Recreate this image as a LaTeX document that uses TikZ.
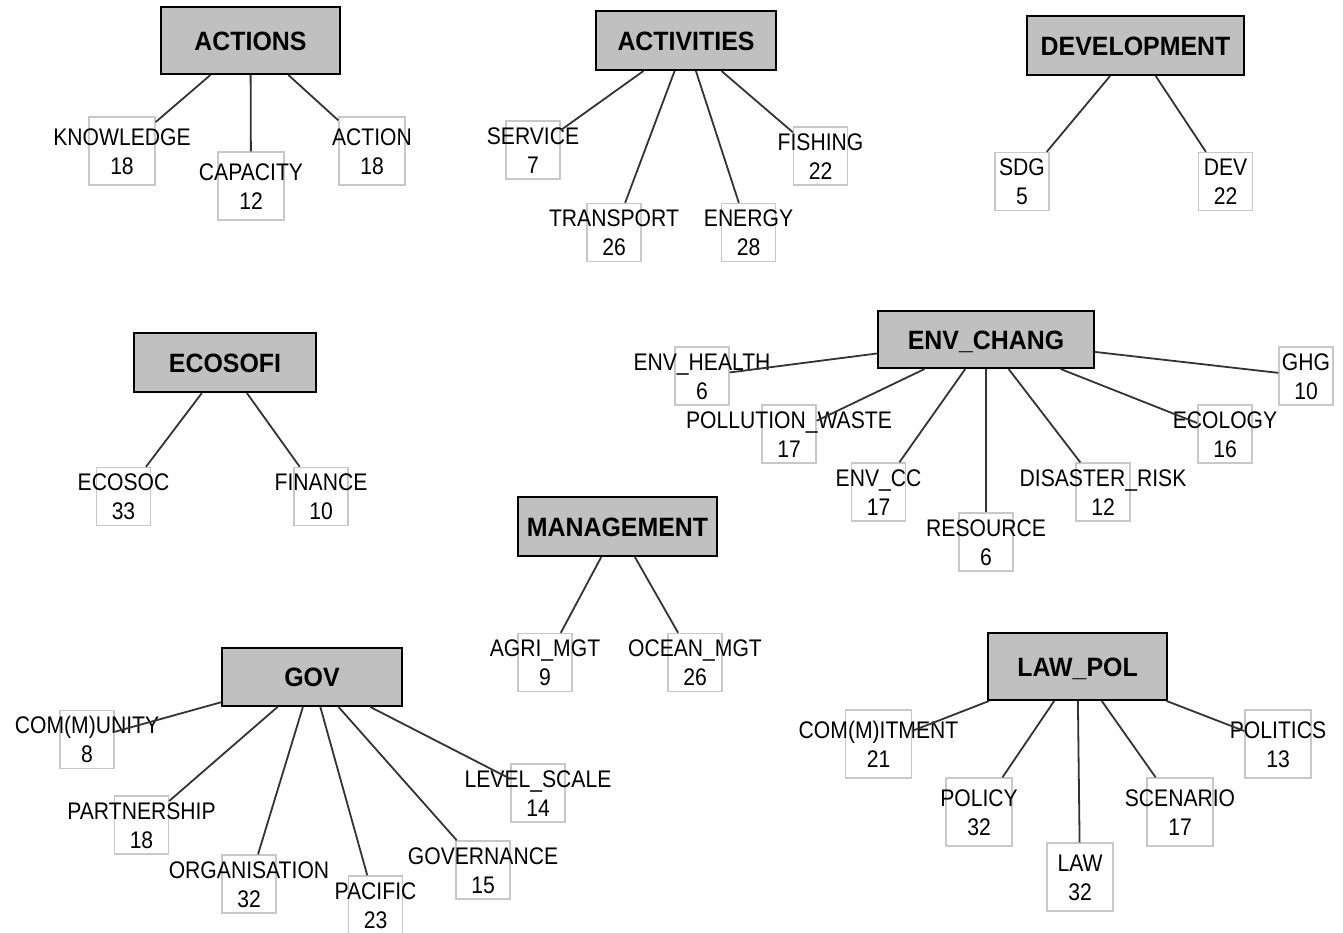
\documentclass[tikz,border=0pt]{standalone}
\usepackage{fontspec}
\setmainfont{Liberation Sans}
\newfontfamily\leaffont{Liberation Sans}[FakeStretch=0.88]
\newfontfamily\catfont{Liberation Sans}[FakeStretch=0.94]
\usetikzlibrary{graphs}

\definecolor{catfill}{HTML}{C0C0C0}
\definecolor{leafline}{HTML}{C8C8C8}
\definecolor{edgeline}{HTML}{333333}

\tikzset{
  cat/.style={rectangle, draw=black, line width=2pt, fill=catfill,
    minimum width=180pt, minimum height=59pt, inner sep=0pt,
    font=\catfont\fontsize{26.5pt}{30pt}\selectfont\bfseries, text height=19pt, text depth=0pt},
  leaf/.style={rectangle, draw=leafline, line width=1.4pt,
    minimum width=54pt, minimum height=58pt, inner sep=0pt},
  big leaf/.style={leaf, minimum width=66pt, minimum height=68pt},
  leaf text/.style={inner sep=0pt, font=\leaffont\fontsize{24pt}{28pt}\selectfont,
    text height=17pt, text depth=0pt},
}

% box, its word above the middle and its count below
\newcommand\leafbox[5][]{%
  \node[leaf,#1] (#2) at (#3) {};
  \node[leaf text] (#2t) at ([yshift=14.5pt]#2.center) {#4};
  \node[leaf text] (#2c) at ([yshift=-14.5pt]#2.center) {#5};
}

\begin{document}
\begin{tikzpicture}[x=1pt, y=-1pt, new set=import nodes]
\useasboundingbox (0,0) rectangle (1343,932);
\begin{scope}[nodes={set=import nodes}] % every node goes into this set
% categories
\node [cat, minimum width=179pt, minimum height=67pt] (act) at (250.5,40.5) {ACTIONS};
\node [cat] (avt) at (686,40.5) {ACTIVITIES};
\node [cat, minimum width=217pt] (dvl) at (1135.5,45.5) {DEVELOPMENT};
\node [cat, minimum width=182pt] (eco) at (225,362.5) {ECOSOFI};
\node [cat, minimum width=216pt, minimum height=57pt] (env) at (986,339.5) {ENV\_CHANG};
\node [cat, minimum width=199pt] (mgt) at (617.5,526.5) {MANAGEMENT};
\node [cat, minimum height=58pt] (gov) at (312,677) {GOV};
\node [cat, minimum width=179pt, minimum height=67pt] (lwp) at (1077.5,666.5) {LAW\_POL};
% codes
\leafbox[big leaf]{knw}{122,151}{KNOWLEDGE}{18}
\leafbox[big leaf]{cap}{251,186}{CAPACITY}{12}
\leafbox[big leaf]{acn}{372,151}{ACTION}{18}
\leafbox{srv}{533,150}{SERVICE}{7}
\leafbox{trn}{614,232.5}{TRANSPORT}{26}
\leafbox{ene}{748.5,232.5}{ENERGY}{28}
\leafbox{fsh}{820.5,156}{FISHING}{22}
\leafbox{sdg}{1022,181.5}{SDG}{5}
\leafbox{dev}{1225.5,181.5}{DEV}{22}
\leafbox{ecs}{123.5,496.5}{ECOSOC}{33}
\leafbox{fin}{321,496.5}{FINANCE}{10}
\leafbox{envh}{702,376}{ENV\_HEALTH}{6}
\leafbox{plw}{789,434}{POLLUTION\_WASTE}{17}
\leafbox{envcc}{878.5,492}{ENV\_CC}{17}
\leafbox{res}{986,542}{RESOURCE}{6}
\leafbox{dis}{1103,492}{DISASTER\_RISK}{12}
\leafbox{ecl}{1225,434}{ECOLOGY}{16}
\leafbox{ghg}{1306,376}{GHG}{10}
\leafbox{agri}{545,662.5}{AGRI\_MGT}{9}
\leafbox{ocn}{695,662.5}{OCEAN\_MGT}{26}
\leafbox{comu}{87,739.5}{COM(M)UNITY}{8}
\leafbox{prt}{141.5,825}{PARTNERSHIP}{18}
\leafbox{org}{249,884}{ORGANISATION}{32}
\leafbox{pac}{375.5,905}{PACIFIC}{23}
\leafbox{gvn}{483,870}{GOVERNANCE}{15}
\leafbox{lvl}{538,793}{LEVEL\_SCALE}{14}
\leafbox[big leaf]{cmt}{878.5,744}{COM(M)ITMENT}{21}
\leafbox[big leaf]{plc}{979,812}{POLICY}{32}
\leafbox[big leaf]{law}{1080,877}{LAW}{32}
\leafbox[big leaf]{scn}{1180,812}{SCENARIO}{17}
\leafbox[big leaf]{ptc}{1278,744}{POLITICS}{13}
\end{scope}
\graph [edges={edgeline, line width=1.8pt}]
{ (import nodes);
act -- {knw, cap, acn};
avt -- {srv, trn, ene, fsh};
dvl -- {sdg, dev};
eco -- {ecs, fin};
env -- {envh, plw, envcc, res, dis, ecl, ghg};
mgt -- {agri, ocn};
gov -- {comu, prt, org, pac, gvn, lvl};
lwp -- {cmt, plc, law, scn, ptc} };
\end{tikzpicture}
\end{document}
